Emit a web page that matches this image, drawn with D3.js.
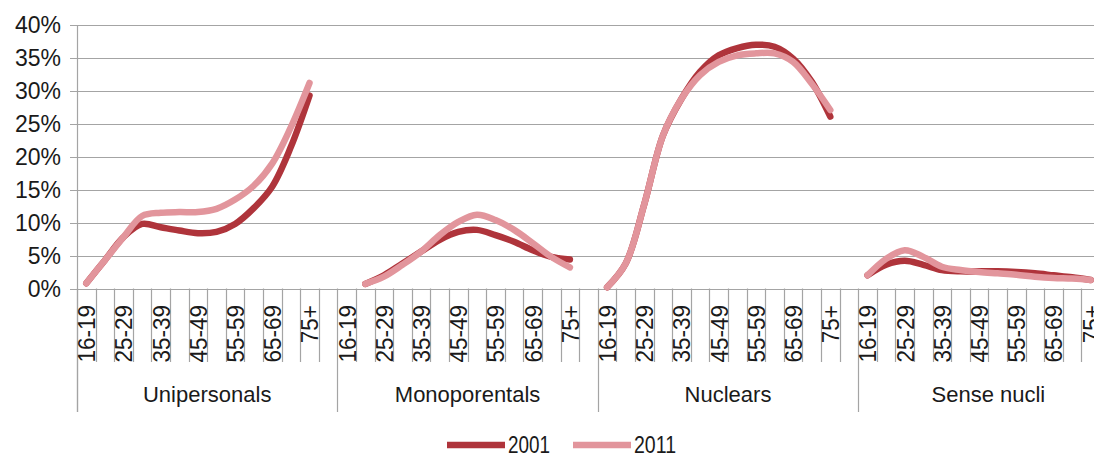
<!DOCTYPE html>
<html>
<head>
<meta charset="utf-8">
<script src="https://cdn.jsdelivr.net/npm/d3@7"></script>
<style>
  html, body { margin: 0; padding: 0; background: #fff; }
  svg { display: block; font-family: "Liberation Sans", Arial, sans-serif; }
</style>
</head>
<body>
<svg id="chart" width="1094" height="460"></svg>
<script>
// ---- data ----
const groups = ["Unipersonals", "Monoporentals", "Nuclears", "Sense nucli"];
const ageSlots = ["16-19","20-24","25-29","30-34","35-39","40-44","45-49","50-54","55-59","60-64","65-69","70-74","75+",""];
const tickLabels = ["16-19","25-29","35-39","45-49","55-59","65-69","75+"];
const yTicks = [0, 0.05, 0.10, 0.15, 0.20, 0.25, 0.30, 0.35, 0.40];
const seriesNames = ["2001", "2011"];

// values in %, one array per group and year (null = no point)
const uni2001  = [0.8, 4.3, 7.8, 9.8, 9.3, 8.8, 8.4, 8.6, 9.8, 12.2, 15.5, 21.5, 29.3, null];
const uni2011  = [0.8, 4.3, 7.8, 11.0, 11.5, 11.6, 11.6, 12.1, 13.5, 15.6, 19.0, 24.5, 31.2, null];
const mono2001 = [null, 0.7, 2.0, 3.8, 5.6, 7.4, 8.6, 8.9, 8.1, 7.1, 5.8, 4.8, 4.4, null];
const mono2011 = [null, 0.7, 1.8, 3.6, 5.6, 8.1, 10.1, 11.2, 10.4, 8.9, 6.9, 4.8, 3.2, null];
const nuc2001  = [0.2, 3.8, 12.8, 23.2, 28.8, 32.9, 35.4, 36.5, 37.0, 36.7, 34.9, 31.4, 26.1, null];
const nuc2011  = [0.2, 3.8, 12.8, 23.2, 28.8, 32.4, 34.4, 35.4, 35.7, 35.7, 34.4, 31.1, 27.1, null];
const sn2001   = [2.0, 3.6, 4.2, 3.6, 2.8, 2.6, 2.6, 2.6, 2.5, 2.3, 2.0, 1.7, 1.3, null];
const sn2011   = [2.0, 4.5, 5.8, 4.8, 3.3, 2.8, 2.5, 2.3, 2.1, 1.8, 1.6, 1.5, 1.3, null];

const data2001 = [uni2001, mono2001, nuc2001, sn2001];
const data2011 = [uni2011, mono2011, nuc2011, sn2011];
const colors = ["#AF343B", "#E2959C"];

(function () {
// ---- layout ----
const svg = d3.select("#chart");
const padL = 77, padT = 25, baseY = 288.5;
const slotW = 18.6;
const keys = [];
groups.forEach(g => ageSlots.forEach((a, i) => keys.push(g + "|" + i)));

const x = d3.scaleBand().domain(keys).range([padL, padL + keys.length * slotW]).paddingInner(0).paddingOuter(0);
const y = d3.scaleLinear().domain([0, 0.40]).range([baseY, padT]);
const grid = "#A4A4A4";

// horizontal gridlines + y ticks
svg.append("g").selectAll("line").data(yTicks).join("line")
  .attr("x1", padL - 7).attr("x2", 1094)
  .attr("y1", d => Math.round(y(d)) + 0.5).attr("y2", d => Math.round(y(d)) + 0.5)
  .attr("stroke", grid).attr("stroke-width", 1.2);

svg.append("g").selectAll("text").data(yTicks).join("text")
  .attr("x", 61).attr("y", d => y(d)).attr("dy", "0.36em")
  .attr("text-anchor", "end").attr("font-size", 23).attr("fill", "#1a1a1a")
  .text(d => d3.format(".0%")(d));

// left axis line (extends to group labels)
svg.append("line").attr("x1", padL + 0.5).attr("x2", padL + 0.5)
  .attr("y1", padT).attr("y2", 412).attr("stroke", grid).attr("stroke-width", 1.2);

// slot boundary ticks
const bounds = keys.map(k => x(k));
svg.append("g").selectAll("line").data(bounds).join("line")
  .attr("x1", d => Math.round(d) + 0.5).attr("x2", d => Math.round(d) + 0.5)
  .attr("y1", baseY).attr("y2", (d, i) => i % ageSlots.length === 0 ? 412 : 362)
  .attr("stroke", grid).attr("stroke-width", 1.2);

// rotated tick labels (every other slot)
const labelKeys = [];
groups.forEach(g => tickLabels.forEach((t, j) => labelKeys.push({ key: g + "|" + (j * 2), text: t })));
svg.append("g").selectAll("text").data(labelKeys).join("text")
  .attr("transform", d => `translate(${x(d.key) + x.bandwidth() / 2},305) rotate(-90) scale(1,1.1)`)
  .attr("text-anchor", "end").attr("dy", "0.36em")
  .attr("font-size", 22.5).attr("fill", "#1a1a1a")
  .text(d => d.text);

// group labels
svg.append("g").selectAll("text").data(groups).join("text")
  .attr("x", g => (x(g + "|0") + x(g + "|" + (ageSlots.length - 1)) + x.bandwidth()) / 2)
  .attr("y", 402).attr("text-anchor", "middle")
  .attr("font-size", 22).attr("fill", "#1a1a1a")
  .text(g => g);

// lines
const line = d3.line()
  .defined(d => d.v !== null)
  .x(d => x(d.key) + x.bandwidth() / 2)
  .y(d => y(d.v / 100))
  .curve(d3.curveCatmullRom.alpha(0.5));

[data2001, data2011].forEach((series, si) => {
  const g = svg.append("g");
  series.forEach((vals, gi) => {
    const pts = vals.map((v, i) => ({ key: groups[gi] + "|" + i, v }));
    g.append("path").datum(pts)
      .attr("d", line).attr("fill", "none")
      .attr("stroke", colors[si]).attr("stroke-width", 6.5)
      .attr("stroke-linecap", "round").attr("stroke-linejoin", "round");
  });
});

// legend
const legX = [447, 573];
seriesNames.forEach((name, i) => {
  svg.append("line").attr("x1", legX[i]).attr("x2", legX[i] + 58)
    .attr("y1", 445).attr("y2", 445)
    .attr("stroke", colors[i]).attr("stroke-width", 6.5);
  svg.append("text").attr("x", legX[i] + 61).attr("y", 445).attr("dy", "0.36em")
    .attr("font-size", 23).attr("fill", "#1a1a1a")
    .attr("textLength", 42).attr("lengthAdjust", "spacingAndGlyphs")
    .text(name);
});
})();
</script>
</body>
</html>
